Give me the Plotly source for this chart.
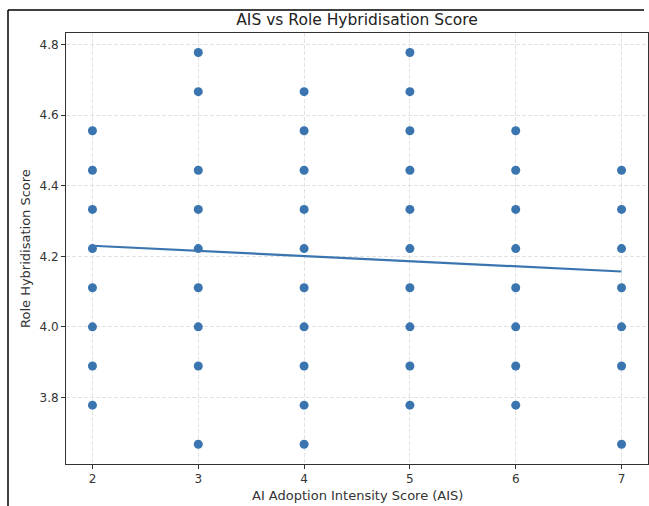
import plotly.graph_objects as go

# Data: AIS score categories and the role hybridisation scores observed at each
ais_2 = [3.778, 3.889, 4.000, 4.111, 4.222, 4.333, 4.444, 4.556]
ais_3 = [3.667, 3.889, 4.000, 4.111, 4.222, 4.333, 4.444, 4.667, 4.778]
ais_4 = [3.667, 3.778, 3.889, 4.000, 4.111, 4.222, 4.333, 4.444, 4.556, 4.667]
ais_5 = [3.778, 3.889, 4.000, 4.111, 4.222, 4.333, 4.444, 4.556, 4.667, 4.778]
ais_6 = [3.778, 3.889, 4.000, 4.111, 4.222, 4.333, 4.444, 4.556]
ais_7 = [3.667, 3.889, 4.000, 4.111, 4.222, 4.333, 4.444]
groups = {2: ais_2, 3: ais_3, 4: ais_4, 5: ais_5, 6: ais_6, 7: ais_7}

# Fitted regression line
fit_x = [2, 7]
fit_y = [4.230, 4.157]

x_ticks = [2, 3, 4, 5, 6, 7]
y_ticks = [3.8, 4.0, 4.2, 4.4, 4.6, 4.8]

xs, ys = [], []
for k, vals in groups.items():
    xs += [k] * len(vals)
    ys += vals

blue = "#3a75b0"
fig = go.Figure()
fig.add_trace(go.Scatter(x=xs, y=ys, mode="markers",
                         marker=dict(color=blue, size=9, line=dict(width=0)),
                         showlegend=False))
fig.add_trace(go.Scatter(x=fit_x, y=fit_y, mode="lines",
                         line=dict(color=blue, width=2.2), showlegend=False))

W, H = 649, 506
L, R, T, B = 66, 1, 33, 42
pw, ph = W - L - R, H - T - B

def px(xp):
    return (xp - L) / pw

def py(yp):
    return (H - B - yp) / ph

axis_common = dict(showline=True, linecolor="#333", linewidth=1, mirror=True,
                   ticks="outside", ticklen=4, tickcolor="#333",
                   showgrid=True, gridcolor="#e2e2e2", griddash="4px,2px", gridwidth=1,
                   zeroline=False, tickfont=dict(family="DejaVu Sans", size=12, color="#333"))

fig.update_layout(
    width=W, height=H,
    margin=dict(l=L, r=R, t=T, b=B),
    plot_bgcolor="white", paper_bgcolor="white",
    title=dict(text="AIS vs Role Hybridisation Score", xref="container", x=357 / W,
               xanchor="center", y=1 - 20 / H, yanchor="middle",
               font=dict(family="DejaVu Sans", size=15.5, color="#222")),
    xaxis=dict(range=[1.75, 7.25], tickvals=x_ticks, ticktext=[str(t) for t in x_ticks],
               **axis_common),
    yaxis=dict(range=[3.6111, 4.8333], tickvals=y_ticks, ticktext=[f"{t:.1f}" for t in y_ticks],
               **axis_common),
    annotations=[
        dict(text="AI Adoption Intensity Score (AIS)", xref="paper", yref="paper",
             x=px(357), y=py(495), xanchor="center", yanchor="middle", showarrow=False,
             font=dict(family="DejaVu Sans", size=13, color="#333")),
        dict(text="Role Hybridisation Score", xref="paper", yref="paper",
             x=px(25), y=py(249), xanchor="center", yanchor="middle", showarrow=False,
             textangle=-90, font=dict(family="DejaVu Sans", size=13, color="#333")),
    ],
    shapes=[
        dict(type="line", xref="paper", yref="paper", x0=px(8), x1=px(8), y0=py(10), y1=py(510),
             line=dict(color="black", width=1.5)),
        dict(type="line", xref="paper", yref="paper", x0=px(8), x1=px(644), y0=py(10), y1=py(10),
             line=dict(color="black", width=1.5)),
    ],
)

fig.write_html("out.html", config={"displayModeBar": False},
               post_script="document.body.style.margin='0';document.body.style.padding='0';")
